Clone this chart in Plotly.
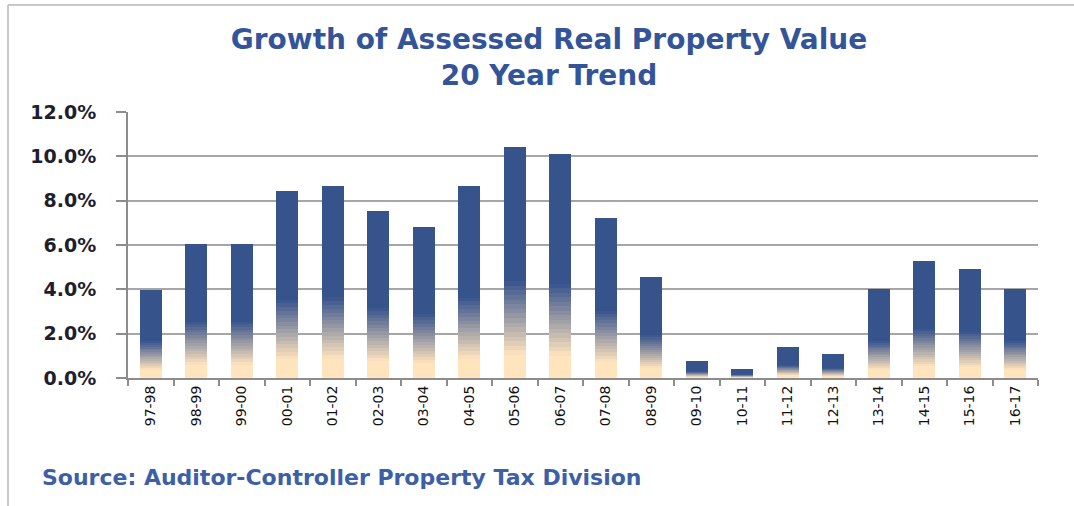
import plotly.graph_objects as go

categories = ["97-98", "98-99", "99-00", "00-01", "01-02", "02-03", "03-04", "04-05",
              "05-06", "06-07", "07-08", "08-09", "09-10", "10-11", "11-12", "12-13",
              "13-14", "14-15", "15-16", "16-17"]
growth_pct = [3.95, 6.05, 6.05, 8.42, 8.66, 7.52, 6.83, 8.64, 10.4, 10.1,
              7.24, 4.57, 0.75, 0.42, 1.42, 1.09, 4.0, 5.27, 4.94, 4.0]
y_tickvals = [0, 2, 4, 6, 8, 10, 12]
y_ticktext = ["0.0%", "2.0%", "4.0%", "6.0%", "8.0%", "10.0%", "12.0%"]

TITLE = "Growth of Assessed Real Property Value<br>20 Year Trend"
SOURCE = "Source: Auditor-Controller Property Tax Division"

BLUE = (55, 83, 140)
PEACH = (255, 228, 190)

W, H = 1074, 506
ML, MR, MT, MB = 128, 36, 112, 128
PW, PH = W - ML - MR, H - MT - MB


def mix(c1, c2, t):
    return "rgb({},{},{})".format(*[round(a + (b - a) * t) for a, b in zip(c1, c2)])


# gradient described as fraction-of-bar slices (bottom -> top)
slices = [(0.10, mix(PEACH, PEACH, 0))]
g0, g1, n = 0.10, 0.42, 16
for i in range(n):
    t = (i + 0.5) / n
    slices.append(((g1 - g0) / n, mix(PEACH, BLUE, t)))
slices.append((1 - g1, mix(BLUE, BLUE, 0)))

fig = go.Figure()
for frac, col in slices:
    fig.add_trace(go.Bar(
        x=categories,
        y=[v * frac for v in growth_pct],
        marker=dict(color=col, line=dict(width=0)),
        hoverinfo="skip",
        showlegend=False,
    ))

px = lambda x: (x - ML) / PW
py = lambda y: (H - MB - y) / PH

fig.update_layout(
    width=W, height=H,
    margin=dict(l=ML, r=MR, t=MT, b=MB),
    barmode="stack",
    bargap=0.515,
    paper_bgcolor="white",
    plot_bgcolor="white",
    title=dict(
        text=TITLE,
        x=549 / W, xref="container", xanchor="center",
        y=1 - 49 / H, yref="container", yanchor="middle",
        font=dict(family="DejaVu Sans", size=28, color="#34549A", weight="bold"),
    ),
    xaxis=dict(
        type="category",
        showline=True, linecolor="#8C8C8C", linewidth=2,
        ticks="outside", tickson="boundaries", ticklen=6, tickwidth=2, tickcolor="#8C8C8C",
        tickangle=-90,
        tickfont=dict(family="DejaVu Sans", size=14, color="#111111"),
        showgrid=False,
    ),
    yaxis=dict(
        range=[0, 12],
        tickvals=y_tickvals, ticktext=y_ticktext,
        showline=True, linecolor="#8C8C8C", linewidth=2,
        ticks="outside", ticklen=10, tickwidth=2, tickcolor="#8C8C8C",
        ticklabelstandoff=16,
        showgrid=True, gridcolor="#A6A6A6", gridwidth=2,
        zeroline=False,
        tickfont=dict(family="DejaVu Sans", size=19, color="#1E1E2E", weight="bold"),
    ),
    annotations=[dict(
        text=SOURCE, xref="paper", yref="paper",
        x=px(40), y=py(477), xanchor="left", yanchor="middle",
        showarrow=False,
        font=dict(family="DejaVu Sans", size=22, color="#3D5FA6", weight="bold"),
    )],
    shapes=[
        dict(type="line", xref="paper", yref="paper",
             x0=px(8), x1=px(W), y0=py(5), y1=py(5),
             line=dict(color="#C8C8C8", width=2)),
        dict(type="line", xref="paper", yref="paper",
             x0=px(8), x1=px(8), y0=py(5), y1=py(H),
             line=dict(color="#C8C8C8", width=2)),
    ],
)

fig.write_html("out.html", config={"displayModeBar": False},
               post_script="document.body.style.margin='0px';")
